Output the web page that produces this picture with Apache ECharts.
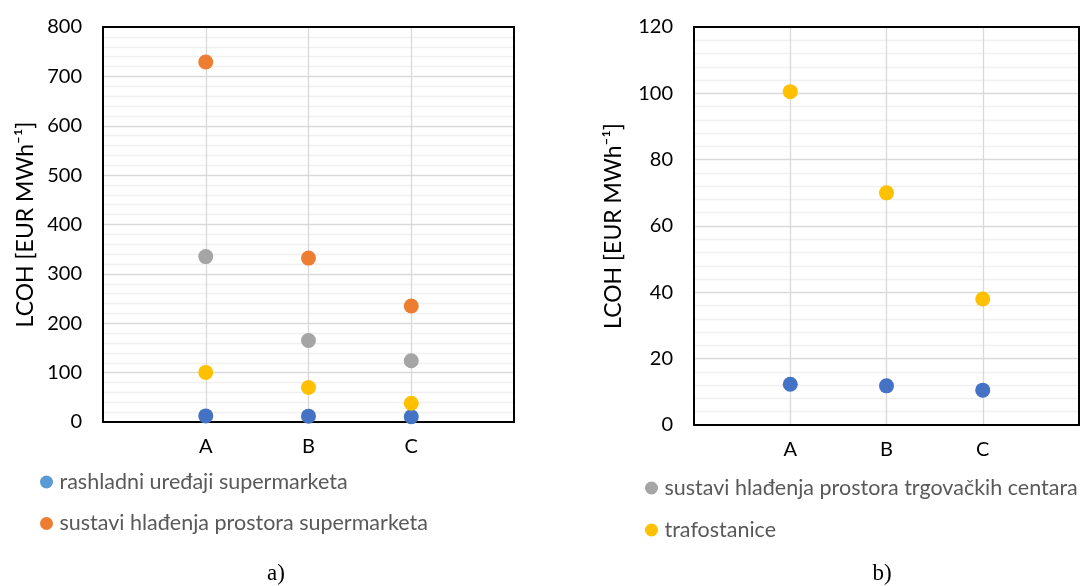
<!DOCTYPE html>
<html>
<head>
<meta charset="utf-8">
<script src="https://cdn.jsdelivr.net/npm/echarts@6/dist/echarts.min.js"></script>
<style>
html,body{margin:0;padding:0;background:#fff;}
#chart{width:1082px;height:586px;}
</style>
</head>
<body>
<div id="chart"></div>
<script>
// ---- data ----
const categories = ['A', 'B', 'C'];
const nameRashladni = 'rashladni uređaji supermarketa';
const nameSustaviSuper = 'sustavi hlađenja prostora supermarketa';
const nameSustaviCentri = 'sustavi hlađenja prostora trgovačkih centara';
const nameTrafo = 'trafostanice';

// chart a)
const aRashladni = [12.3, 11.8, 10.5];
const aSustaviSuper = [729, 332, 235];
const aSustaviCentri = [335, 165, 124];
const aTrafo = [100.5, 70, 38];

// chart b)
const bRashladni = [12.3, 11.8, 10.5];
const bTrafo = [100.5, 70, 38];

const yTicksA = { min: 0, max: 800, interval: 100 };
const yTicksB = { min: 0, max: 120, interval: 20 };

// ---- styles ----
const colors = { blue: '#4472C4', blueLegend: '#5B9BD5', orange: '#ED7D31', gray: '#A5A5A5', yellow: '#FFC000' };
const FONT = 'Lato';
const axisCats = [''].concat(categories, ['']);
const toPts = arr => arr.map((v, i) => [i + 1, v]);
const frameLine = { show: true, onZero: false, lineStyle: { color: '#000', width: 2 } };

function xAxis(gridIndex) {
  return {
    type: 'category', gridIndex, data: axisCats, boundaryGap: false,
    axisLine: frameLine, axisTick: { show: false },
    axisLabel: { color: '#000', fontFamily: FONT, fontSize: 20, margin: 15 },
    splitLine: { show: true, showMinLine: false, showMaxLine: false, lineStyle: { color: '#d9d9d9', width: 1.3 } }
  };
}
function xAxisTop(gridIndex) {
  return {
    type: 'category', gridIndex, position: 'top', data: axisCats, boundaryGap: false,
    axisLine: frameLine, axisTick: { show: false }, axisLabel: { show: false }, splitLine: { show: false }
  };
}
function yAxis(gridIndex, t, gap) {
  return {
    type: 'value', gridIndex, min: t.min, max: t.max, interval: t.interval,
    name: 'LCOH [EUR MWh⁻¹]', nameLocation: 'middle', nameGap: gap, nameRotate: 90,
    nameTextStyle: { color: '#000', fontFamily: FONT, fontSize: 23 },
    axisLine: frameLine, axisTick: { show: false },
    axisLabel: { color: '#000', fontFamily: FONT, fontSize: 20, margin: 21 },
    splitLine: { show: true, showMinLine: false, showMaxLine: false, lineStyle: { color: '#d9d9d9', width: 1.3 } },
    minorTick: { show: false, splitNumber: 5 },
    minorSplitLine: { show: true, lineStyle: { color: '#f0f0f0', width: 1.3 } }
  };
}
function yAxisRight(gridIndex, t) {
  return {
    type: 'value', gridIndex, position: 'right', min: t.min, max: t.max, interval: t.interval,
    axisLine: frameLine, axisTick: { show: false }, axisLabel: { show: false }, splitLine: { show: false }
  };
}
function sc(name, data, color, xi, yi) {
  return {
    type: 'scatter', name, xAxisIndex: xi, yAxisIndex: yi, data: toPts(data),
    symbol: 'circle', symbolSize: 15, itemStyle: { color, opacity: 1 }, z: 5
  };
}

const legendText = { color: '#595959', fontFamily: FONT, fontSize: 21.5, lineHeight: 22 };

const chart = echarts.init(document.getElementById('chart'));
chart.setOption({
  animation: false,
  backgroundColor: '#fff',
  grid: [
    { left: 103, right: 1082 - 514, top: 27, bottom: 586 - 422 },
    { left: 694, right: 1082 - 1080, top: 27, bottom: 586 - 425 }
  ],
  xAxis: [xAxis(0), xAxis(1), xAxisTop(0), xAxisTop(1)],
  yAxis: [yAxis(0, yTicksA, 66), yAxis(1, yTicksB, 69), yAxisRight(0, yTicksA), yAxisRight(1, yTicksB)],
  legend: [
    {
      orient: 'vertical', left: 40, top: 471, padding: 0, itemGap: 19.5,
      itemWidth: 16, itemHeight: 13, icon: 'circle',
      textStyle: legendText,
      data: [{ name: nameRashladni, itemStyle: { color: colors.blueLegend } }, nameSustaviSuper]
    },
    {
      orient: 'vertical', left: 645, top: 477, padding: 0, itemGap: 20,
      itemWidth: 16, itemHeight: 13, icon: 'circle',
      textStyle: legendText,
      data: [nameSustaviCentri, nameTrafo]
    }
  ],
  series: [
    sc(nameRashladni, aRashladni, colors.blue, 0, 0),
    sc(nameSustaviSuper, aSustaviSuper, colors.orange, 0, 0),
    sc(nameSustaviCentri, aSustaviCentri, colors.gray, 0, 0),
    sc(nameTrafo, aTrafo, colors.yellow, 0, 0),
    sc(nameRashladni, bRashladni, colors.blue, 1, 1),
    sc(nameTrafo, bTrafo, colors.yellow, 1, 1)
  ],
  graphic: [
    { type: 'text', x: 276, y: 574, style: { text: 'a)', font: '23px "Liberation Serif"', fill: '#000', align: 'center', verticalAlign: 'middle' } },
    { type: 'text', x: 882, y: 574, style: { text: 'b)', font: '23px "Liberation Serif"', fill: '#000', align: 'center', verticalAlign: 'middle' } }
  ]
});
</script>
</body>
</html>
